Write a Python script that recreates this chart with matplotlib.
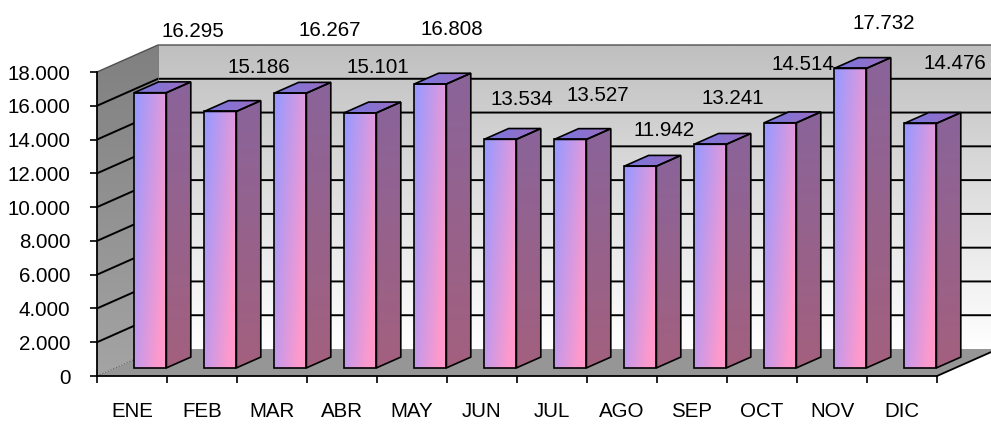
import matplotlib
matplotlib.use("Agg")
import matplotlib.pyplot as plt
import numpy as np
from matplotlib.patches import Polygon
from matplotlib.colors import to_rgb

# ---- data ----
months = ["ENE", "FEB", "MAR", "ABR", "MAY", "JUN", "JUL", "AGO", "SEP", "OCT", "NOV", "DIC"]
values = [16295, 15186, 16267, 15101, 16808, 13534, 13527, 11942, 13241, 14514, 17732, 14476]
y_ticks = list(range(0, 18001, 2000))

# label offsets (pixels) from each bar's front-top centre, as placed in the reference
label_dx = [43, 39, 39, 18, 22, 22, 28, 24, 23, 23, 33, 35]
label_dy = [61, 44, 63, 45, 55, 40, 44, 36, 46, 58, 45, 60]

plt.rcParams['font.family'] = ['Liberation Sans', 'DejaVu Sans']
FS = 14.8

W, H = 991, 424
fig = plt.figure(figsize=(W / 100, H / 100), dpi=100)
x_left, x_right = 97, 937
y_bot, y_top = 376, 72
ax = fig.add_axes([x_left / W, 1 - y_bot / H, (x_right - x_left) / W, (y_bot - y_top) / H])
n = len(months)
ymax = 18000

# depth offset in data units (61 px right, 27 px up)
px_per_x = (x_right - x_left) / n
px_per_y = (y_bot - y_top) / ymax
DDX = 61 / px_per_x
DDY = 27 / px_per_y


def grad_fill(poly_xy, img, z):
    poly = Polygon(poly_xy, closed=True, facecolor='none', edgecolor='none', zorder=z,
                   clip_on=False)
    ax.add_patch(poly)
    xs = [p[0] for p in poly_xy]
    ys = [p[1] for p in poly_xy]
    im = ax.imshow(img, extent=(min(xs), max(xs), min(ys), max(ys)), origin='lower',
                   aspect='auto', interpolation='bilinear', zorder=z)
    im.set_clip_box(fig.bbox)
    im.set_clip_path(poly)
    return im


def vgrad(c_bottom, c_top, nrow=100):
    a = np.array(to_rgb(c_bottom)); b = np.array(to_rgb(c_top))
    t = np.linspace(0, 1, nrow)[:, None, None]
    return (a + (b - a) * t) * np.ones((1, 2, 1))


# back wall
back = [(DDX, DDY), (n + DDX, DDY), (n + DDX, ymax + DDY), (DDX, ymax + DDY)]
grad_fill(back, vgrad('#ffffff', '#c0c0c0'), 1)
# side wall
side = [(0, 0), (DDX, DDY), (DDX, ymax + DDY), (0, ymax)]
grad_fill(side, vgrad('#a4a4a4', '#808080'), 1)
# floor
floor = [(0, 0), (n, 0), (n + DDX, DDY), (DDX, DDY)]
ax.add_patch(Polygon(floor, closed=True, facecolor='#969696', edgecolor='none', zorder=1.5,
                     clip_on=False))
ax.plot([n, n + DDX], [0, DDY], color='black', lw=1.3, zorder=1.6, clip_on=False)

# gridlines
for v in y_ticks:
    if v == 0:
        ax.plot([0, DDX], [0, DDY], color='#606060', lw=0.8, ls=':', zorder=2, clip_on=False)
        continue
    if v == ymax:
        ax.plot([0, DDX, n + DDX], [v, v + DDY, v + DDY], color='#505050', lw=1.0, zorder=2,
                clip_on=False)
        continue
    ax.plot([0, DDX, n + DDX], [v, v + DDY, v + DDY], color='black', lw=1.4, zorder=2,
            clip_on=False)
ax.plot([DDX, DDX], [DDY, ymax + DDY], color='#707070', lw=0.6, zorder=2, clip_on=False)

# bars
w = 0.46
f0, f1 = 0.3, 0.7
blue = np.array(to_rgb('#9999ff'))
pink = np.array(to_rgb('#ff99cc'))
gx = np.linspace(0, 1, 60)[None, :]
gy = np.linspace(0, 1, 100)[:, None]
t_front = np.clip(0.8 * gx + 0.45 * (1 - gy) - 0.05, 0, 1)[..., None]
front_img = blue + (pink - blue) * t_front
side_img = vgrad('#a3607e', '#8a649a')
c_tl, c_tr = np.array(to_rgb('#7878e0')), np.array(to_rgb('#9a6cc0'))
top_img = c_tl + (c_tr - c_tl) * np.linspace(0, 1, 60)[None, :, None] * np.ones((10, 1, 1))

for i, v in enumerate(values):
    x0 = i + (1 - w) / 2
    x1 = x0 + w
    fx0, fx1 = x0 + f0 * DDX, x1 + f0 * DDX
    bx0, bx1 = x0 + f1 * DDX, x1 + f1 * DDX
    fy, by = f0 * DDY, f1 * DDY
    front = [(fx0, fy), (fx1, fy), (fx1, v + fy), (fx0, v + fy)]
    sidef = [(fx1, fy), (bx1, by), (bx1, v + by), (fx1, v + fy)]
    topf = [(fx0, v + fy), (fx1, v + fy), (bx1, v + by), (bx0, v + by)]
    z = 3 + i * 0.01
    grad_fill(front, front_img, z)
    grad_fill(sidef, side_img, z)
    grad_fill(topf, top_img, z)
    for poly in (front, sidef, topf):
        ax.add_patch(Polygon(poly, closed=True, facecolor='none', edgecolor='black', lw=1.2,
                             joinstyle='miter', zorder=z + 0.005, clip_on=False))
    ax.annotate(f"{v:,}".replace(",", "."), xy=((fx0 + fx1) / 2, v + fy),
                xytext=(label_dx[i], label_dy[i]), textcoords='offset pixels',
                ha='center', va='center', fontsize=FS, color='black', zorder=10,
                annotation_clip=False)

ax.set_xlim(0, n)
ax.set_ylim(0, ymax)

# axes styling
for s in ['top', 'right']:
    ax.spines[s].set_visible(False)
for s in ['left', 'bottom']:
    ax.spines[s].set_color('black')
    ax.spines[s].set_linewidth(1.3)
    ax.spines[s].set_zorder(5)
ax.patch.set_visible(False)

ax.set_yticks(y_ticks)
ax.set_yticklabels([f"{v:,}".replace(",", ".") for v in y_ticks], fontsize=FS)
ax.tick_params(axis='y', length=5, width=1.2, pad=14, color='black')
ax.set_xticks(np.arange(0, n + 1))
ax.set_xticklabels([])
ax.tick_params(axis='x', which='major', length=5, width=1.2, color='black')
ax.set_xticks(np.arange(n) + 0.5, minor=True)
ax.set_xticklabels(months, minor=True, fontsize=FS)
ax.tick_params(axis='x', which='minor', length=0, pad=19)

fig.savefig("out.png", dpi=100)
